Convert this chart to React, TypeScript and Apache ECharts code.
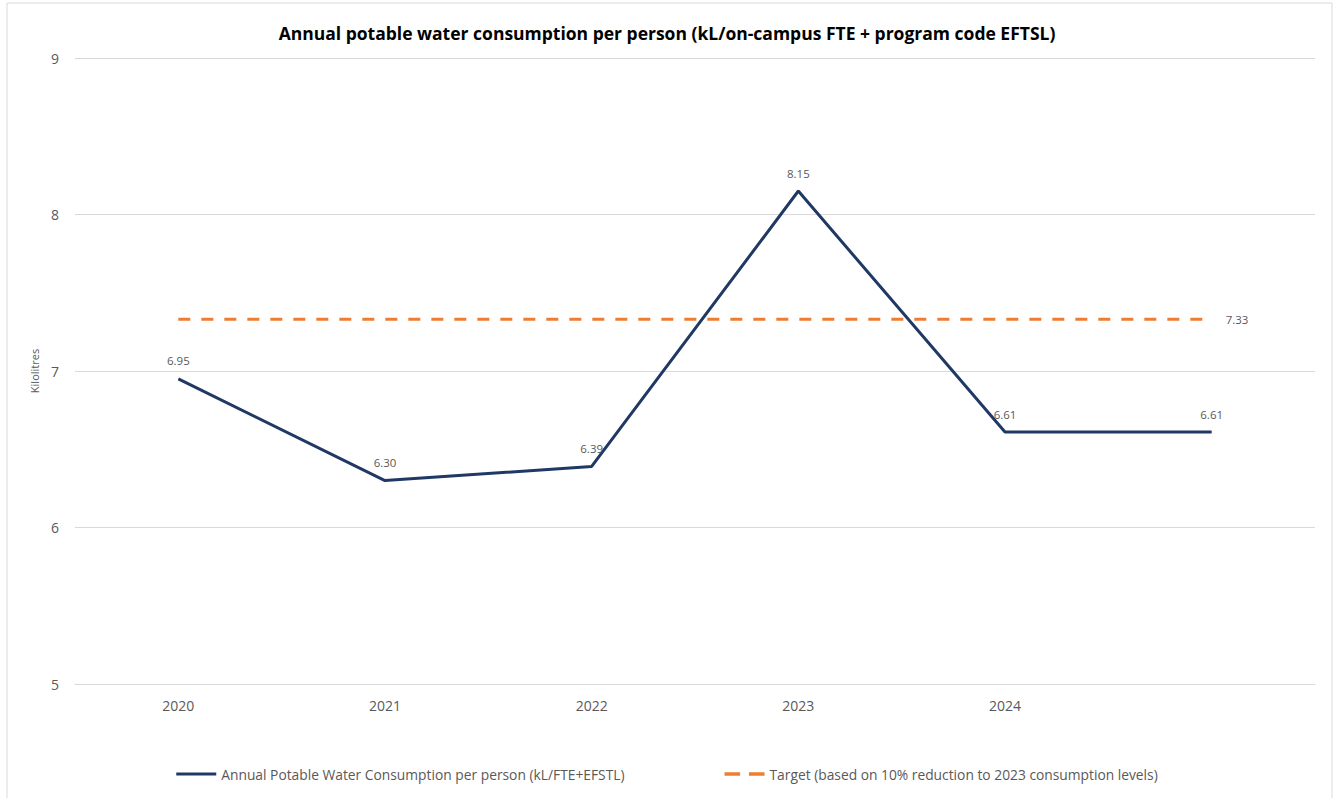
import React, { useEffect, useRef } from "react";
import * as echarts from "echarts";

const categories = ["2020", "2021", "2022", "2023", "2024", ""];
const consumption = [6.95, 6.3, 6.39, 8.15, 6.61, 6.61];
const target = [7.33, 7.33, 7.33, 7.33, 7.33, 7.33];
const yTicks = [5, 6, 7, 8, 9];

const TITLE = "Annual potable water consumption per person (kL/on-campus FTE + program code EFTSL)";
const S1 = "Annual Potable Water Consumption per person (kL/FTE+EFSTL)";
const S2 = "Target (based on 10% reduction to 2023 consumption levels)";

export default function App() {
  const ref = useRef<HTMLDivElement>(null);
  useEffect(() => {
    if (!ref.current) return;
    const chart = echarts.init(ref.current, undefined, { renderer: "svg" });
    const font = "'Open Sans', 'Noto Sans', sans-serif";
    const fmt = (p: any) => Number(p.value).toFixed(2);
    chart.setOption({
      animation: false,
      backgroundColor: "#ffffff",
      textStyle: { fontFamily: font },
      title: {
        text: TITLE,
        left: "center",
        top: 19,
        textStyle: { fontSize: 17.5, fontWeight: "bold", color: "#000000", fontFamily: font },
      },
      graphic: [
        {
          type: "rect",
          shape: { x: 7, y: 3, width: 1325, height: 800 },
          style: { fill: "none", stroke: "#d9d9d9", lineWidth: 1 },
          silent: true,
        },
      ],
      legend: {
        bottom: 12,
        left: "center",
        itemGap: 100,
        itemWidth: 40,
        itemHeight: 10,
        textStyle: { fontSize: 13.8, color: "#595959", fontFamily: font },
        data: [
          { name: S1, icon: "path://M0,4 L40,4 L40,7 L0,7 Z", itemStyle: { color: "#1f3864" } },
          {
            name: S2,
            icon: "path://M2,4 L16,4 L16,7 L2,7 Z M24,4 L38,4 L38,7 L24,7 Z",
            itemStyle: { color: "#ed7d31" },
          },
        ],
      },
      grid: { left: 75, right: 19, top: 58, bottom: 114 },
      xAxis: {
        type: "category",
        data: categories,
        boundaryGap: true,
        axisLine: { show: true, lineStyle: { color: "#d9d9d9" } },
        axisTick: { show: false },
        axisLabel: { fontSize: 14, color: "#595959", margin: 14 },
      },
      yAxis: {
        type: "value",
        min: yTicks[0],
        max: yTicks[yTicks.length - 1],
        interval: 1,
        name: "Kilolitres",
        nameLocation: "middle",
        nameGap: 31,
        nameTextStyle: { fontSize: 11, color: "#595959" },
        axisLine: { show: false },
        axisTick: { show: false },
        axisLabel: { fontSize: 14, color: "#595959", margin: 16 },
        splitLine: { lineStyle: { color: "#d9d9d9", width: 1 } },
      },
      series: [
        {
          name: S1,
          type: "line",
          data: consumption,
          symbol: "circle",
          symbolSize: 0,
          showSymbol: true,
          lineStyle: { color: "#1f3864", width: 3 },
          itemStyle: { color: "#1f3864" },
          label: {
            show: true,
            position: "top",
            distance: 12,
            fontSize: 11.5,
            color: "#595959",
            formatter: fmt,
          },
          z: 3,
        },
        {
          name: S2,
          type: "line",
          data: target.map((v, i) =>
            i === target.length - 1
              ? {
                  value: v,
                  label: {
                    show: true,
                    position: "right",
                    distance: 14,
                    fontSize: 11.5,
                    color: "#595959",
                    formatter: fmt,
                  },
                }
              : v
          ),
          symbol: "circle",
          symbolSize: 0,
          showSymbol: true,
          lineStyle: { color: "#ed7d31", width: 3, type: [12, 11] },
          itemStyle: { color: "#ed7d31" },
          label: { show: false },
          z: 2,
        },
      ],
    });
    return () => chart.dispose();
  }, []);
  return (
    <div
      ref={ref}
      style={{ position: "fixed", left: 0, top: 0, width: 1334, height: 798, background: "#fff" }}
    />
  );
}
